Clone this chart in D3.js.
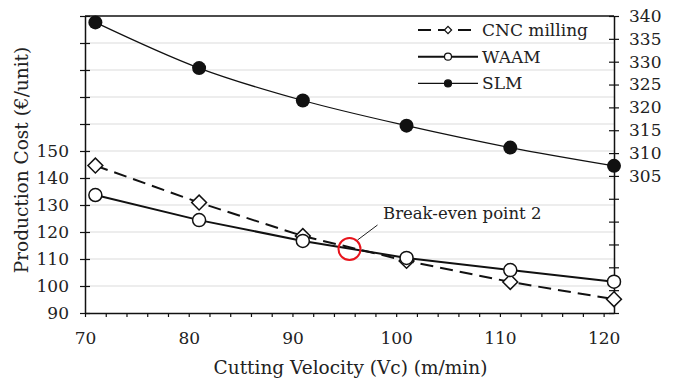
<!DOCTYPE html>
<html>
<head>
<meta charset="utf-8">
<script src="https://cdn.jsdelivr.net/npm/d3@7"></script>
<style>
  html, body { margin: 0; padding: 0; background: #fff; }
  svg text { font-family: "DejaVu Serif", serif; fill: #222; }
</style>
</head>
<body>
<svg id="chart" width="674" height="378"></svg>
<script>
// Cutting velocity (m/min)
const velocity = [71, 81, 91, 101, 111, 121];
// Production cost (€/unit), left axis
const cncMilling = [144.6, 130.9, 118.5, 109.3, 101.5, 95.1];
const waam = [133.7, 124.4, 116.7, 110.4, 105.9, 101.6];
// Production cost (€/unit), right axis
const slm = [338.6, 328.6, 321.5, 316.0, 311.2, 307.2];

const xTicks = [70, 80, 90, 100, 110, 120];
const leftTickLabels = [90, 100, 110, 120, 130, 140, 150];
const rightTickLabels = [305, 310, 315, 320, 325, 330, 335, 340];
const breakEven = { x: 95.5, y: 113.7, label: "Break-even point 2" };

const svg = d3.select("#chart");
const m = { left: 85, right: 614, top: 16, bottom: 313 };

const x = d3.scaleLinear().domain([70, 121]).range([m.left, m.right]);
const yL = d3.scaleLinear().domain([90, 200]).range([m.bottom, m.top]);
const yR = d3.scaleLinear().domain([275, 340]).range([m.bottom, m.top]);

// horizontal gridlines
svg.append("g").selectAll("line")
  .data(d3.range(100, 200, 10))
  .join("line")
  .attr("x1", m.left).attr("x2", m.right)
  .attr("y1", d => yL(d)).attr("y2", d => yL(d))
  .attr("stroke", "#dcdcdc").attr("stroke-width", 1.2);

// top frame line
svg.append("line")
  .attr("x1", m.left).attr("x2", m.right)
  .attr("y1", m.top).attr("y2", m.top)
  .attr("stroke", "#111").attr("stroke-width", 1.5);

// bottom axis
const xAxis = d3.axisBottom(x)
  .tickValues(d3.range(70, 122, 2))
  .tickSize(4).tickSizeOuter(0)
  .tickFormat(d => xTicks.includes(d) ? d : "");
const gx = svg.append("g").attr("transform", `translate(0,${m.bottom})`).call(xAxis);
gx.select(".domain").attr("stroke", "#111").attr("stroke-width", 1.5);
gx.selectAll(".tick line").attr("stroke", "#111").attr("stroke-width", 1.2);
gx.selectAll(".tick text").attr("font-size", 17).attr("y", 19).attr("dy", "0.71em");

// left axis (ticks crossing the line)
const yAxisL = d3.axisLeft(yL)
  .tickValues(d3.range(90, 201, 10))
  .tickSize(5).tickSizeOuter(0)
  .tickFormat(d => leftTickLabels.includes(d) ? d : "");
const gl = svg.append("g").attr("transform", `translate(${m.left},0)`).call(yAxisL);
gl.select(".domain").attr("stroke", "#111").attr("stroke-width", 1.5);
gl.selectAll(".tick line").attr("x2", -5).attr("x1", 5).attr("stroke", "#111").attr("stroke-width", 1.2);
gl.selectAll(".tick text").attr("font-size", 17).attr("x", -16);

// right axis
const yAxisR = d3.axisRight(yR)
  .tickValues(d3.range(275, 341, 5))
  .tickSize(5).tickSizeOuter(0)
  .tickFormat(d => rightTickLabels.includes(d) ? d : "");
const gr = svg.append("g").attr("transform", `translate(${m.right},0)`).call(yAxisR);
gr.select(".domain").attr("stroke", "#111").attr("stroke-width", 1.5);
gr.selectAll(".tick line").attr("x1", -5).attr("x2", 5).attr("stroke", "#111").attr("stroke-width", 1.2);
gr.selectAll(".tick text").attr("font-size", 17).attr("x", 15);

// axis titles
svg.append("text")
  .attr("x", (m.left + m.right) / 2 + 1).attr("y", 374)
  .attr("text-anchor", "middle").attr("font-size", 18.5)
  .text("Cutting Velocity (Vc) (m/min)");
svg.append("text")
  .attr("transform", `translate(28,160) rotate(-90)`)
  .attr("text-anchor", "middle").attr("font-size", 18.5)
  .text("Production Cost (€/unit)");

// series lines
const lineL = d3.line().x((d, i) => x(velocity[i])).y(d => yL(d));
const lineR = d3.line().x((d, i) => x(velocity[i])).y(d => yR(d)).curve(d3.curveMonotoneX);

svg.append("path").datum(cncMilling).attr("d", lineL)
  .attr("fill", "none").attr("stroke", "#111").attr("stroke-width", 2)
  .attr("stroke-dasharray", "13,7");
svg.append("path").datum(waam).attr("d", lineL)
  .attr("fill", "none").attr("stroke", "#111").attr("stroke-width", 2);
svg.append("path").datum(slm).attr("d", lineR)
  .attr("fill", "none").attr("stroke", "#111").attr("stroke-width", 1.2);

// markers
const diamond = d3.symbol().type(d3.symbolSquare).size(110);
svg.append("g").selectAll("path")
  .data(cncMilling).join("path")
  .attr("d", diamond)
  .attr("transform", (d, i) => `translate(${x(velocity[i])},${yL(d)}) rotate(45)`)
  .attr("fill", "#fff").attr("stroke", "#111").attr("stroke-width", 1.5);
svg.append("g").selectAll("circle")
  .data(waam).join("circle")
  .attr("cx", (d, i) => x(velocity[i])).attr("cy", d => yL(d)).attr("r", 6.5)
  .attr("fill", "#fff").attr("stroke", "#111").attr("stroke-width", 1.5);
svg.append("g").selectAll("circle")
  .data(slm).join("circle")
  .attr("cx", (d, i) => x(velocity[i])).attr("cy", d => yR(d)).attr("r", 7)
  .attr("fill", "#111");

// break-even annotation
svg.append("circle")
  .attr("cx", x(breakEven.x)).attr("cy", yL(breakEven.y)).attr("r", 11)
  .attr("fill", "none").attr("stroke", "#e8141c").attr("stroke-width", 2);
svg.append("line")
  .attr("x1", x(breakEven.x) + 8).attr("y1", yL(breakEven.y) - 9)
  .attr("x2", x(breakEven.x) + 28).attr("y2", yL(breakEven.y) - 24)
  .attr("stroke", "#222").attr("stroke-width", 1);
svg.append("text")
  .attr("x", 383).attr("y", 219).attr("font-size", 16.5)
  .text(breakEven.label);

// legend
const legend = [
  { name: "CNC milling", type: "diamond", dash: "13,7", w: 2 },
  { name: "WAAM", type: "open", dash: null, w: 2 },
  { name: "SLM", type: "filled", dash: null, w: 1.2 }
];
const lg = svg.append("g").selectAll("g").data(legend).join("g")
  .attr("transform", (d, i) => `translate(418,${30 + i * 26.7})`);
lg.append("line").attr("x1", 0).attr("x2", 60)
  .attr("stroke", "#111").attr("stroke-width", d => d.w)
  .attr("stroke-dasharray", d => d.dash);
lg.each(function(d) {
  const g = d3.select(this);
  if (d.type === "diamond") {
    g.append("path").attr("d", d3.symbol().type(d3.symbolSquare).size(26))
      .attr("transform", "translate(30,0) rotate(45)")
      .attr("fill", "#fff").attr("stroke", "#111").attr("stroke-width", 1.2);
  } else {
    g.append("circle").attr("cx", 30).attr("r", 3.5)
      .attr("fill", d.type === "filled" ? "#111" : "#fff")
      .attr("stroke", "#111").attr("stroke-width", 1.2);
  }
});
lg.append("text").attr("x", 64).attr("dy", "0.35em").attr("font-size", 17)
  .text(d => d.name);
</script>
</body>
</html>
